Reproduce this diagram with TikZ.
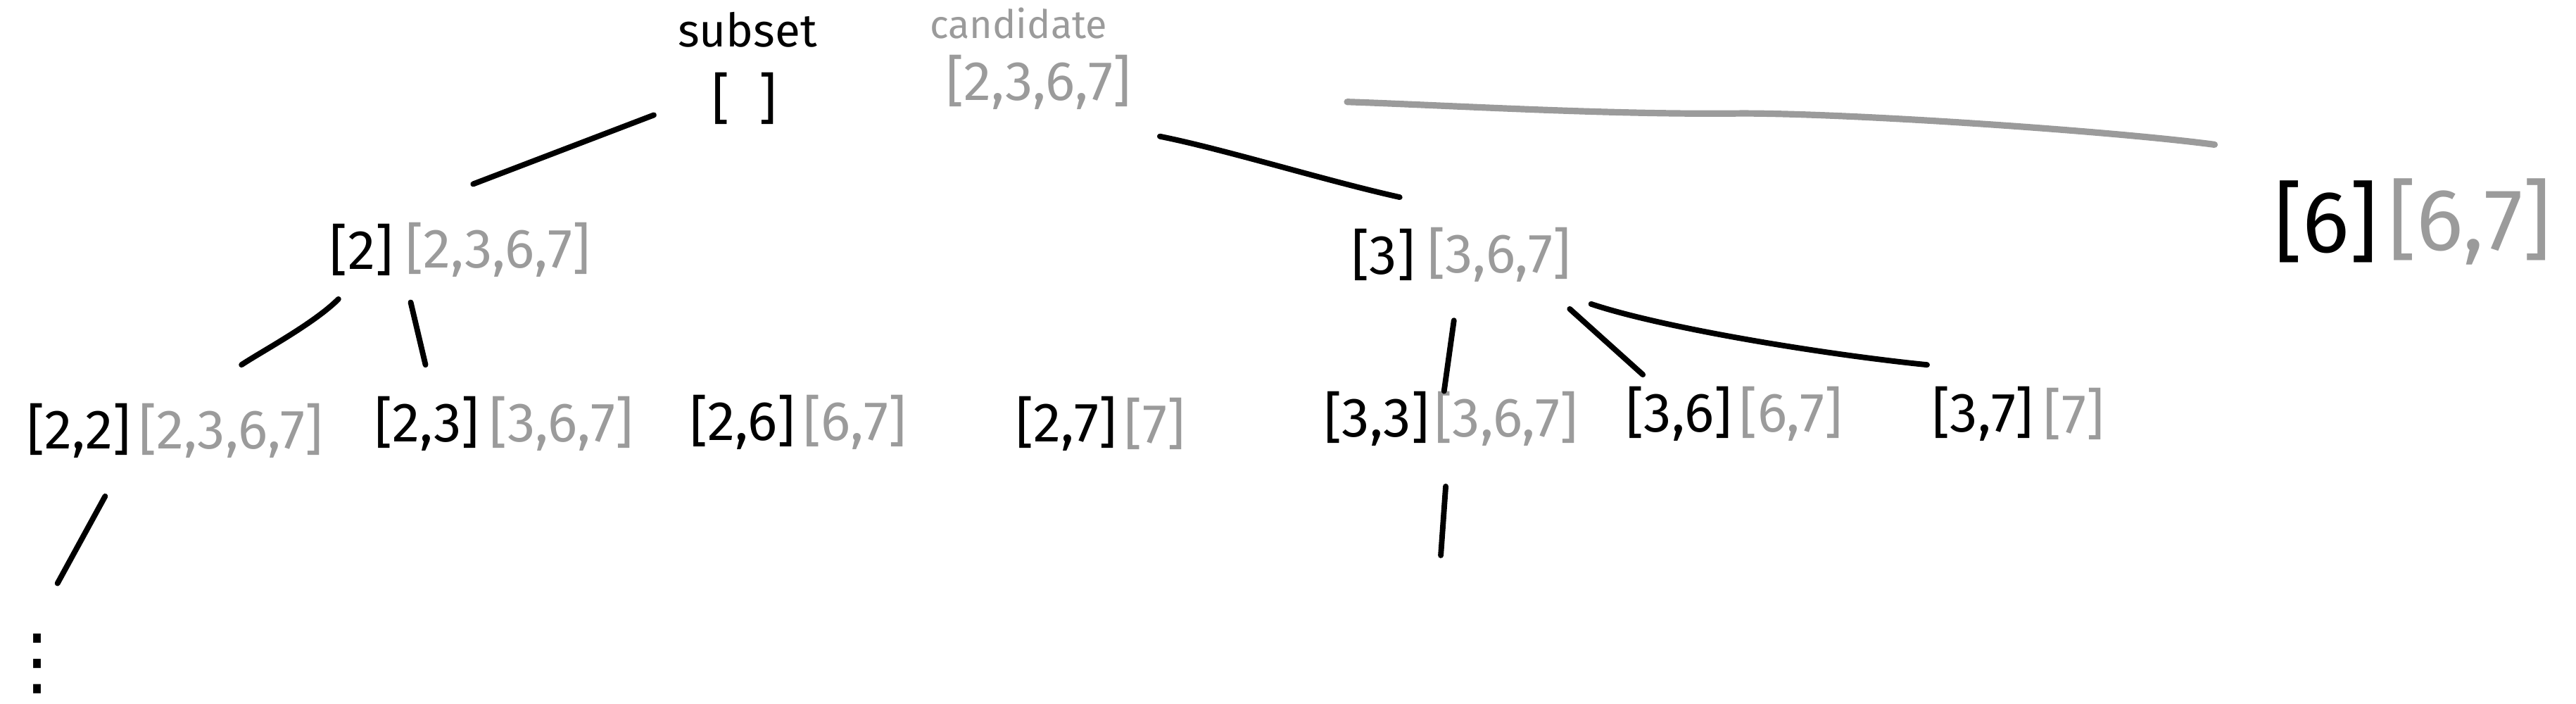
\documentclass[tikz,border=0pt]{standalone}
\usepackage{fontspec}
\setmainfont{Fira Sans}
\newfontfamily\dotsfont{DejaVu Sans}
\usepackage{tikz}
\usetikzlibrary{positioning, calc}
\definecolor{SubInk}{HTML}{000000}
\definecolor{CandInk}{HTML}{9B9B9B}

\begin{document}
\begin{tikzpicture}[
    x=0.025cm, y=-0.025cm,
    sub/.style={
      text=SubInk,
      inner sep=0pt,
      font=\fontsize{24}{27}\selectfont,
    },
    cand/.style={
      text=CandInk,
      inner sep=0pt,
      font=\fontsize{24}{27}\selectfont,
    },
    big/.style={
      font=\fontsize{38}{42}\selectfont,
    },
    edge/.style={
      draw=SubInk,
      line width=2.4pt,
      line cap=round,
    },
    guide/.style={
      draw=CandInk,
      line width=2.8pt,
      line cap=round,
    },
  ]
  \useasboundingbox (0,0) rectangle (1568,428);

  % headings
  \node[sub, font=\fontsize{20}{24}\selectfont] (hsub) at (455,18) {subset};
  \node[cand, font=\fontsize{17}{20}\selectfont] (hcand) at (620,14) {candidate};

  % level 0
  \node[sub] (root) at (453,60) {[\ \ ]};
  \node[cand] (c0) at (632,50) {[2,3,6,7]};

  % level 1
  \node[sub] (n2) at (220,152) {[2]};
  \node[cand, right=5pt of n2] (c2) {[2,3,6,7]};
  \node[sub] (n3) at (842,155) {[3]};
  \node[cand, right=5pt of n3] (c3) {[3,6,7]};
  \node[sub, big] (n6) at (1416,135) {[6]};
  \node[cand, big, right=4pt of n6] (c6) {[6,7]};

  % level 2
  \node[sub] (n22) at (48,262) {[2,2]};
  \node[cand, right=3pt of n22] (c22) {[2,3,6,7]};
  \node[sub] (n23) at (260,258) {[2,3]};
  \node[cand, right=4pt of n23] (c23) {[3,6,7]};
  \node[sub] (n26) at (452,257) {[2,6]};
  \node[cand, right=3pt of n26] (c26) {[6,7]};
  \node[sub] (n27) at (649,258) {[2,7]};
  \node[cand, right=3pt of n27] (c27) {[7]};
  \node[sub] (n33) at (838,255) {[3,3]};
  \node[cand, right=2pt of n33] (c33) {[3,6,7]};
  \node[sub] (n36) at (1022,252) {[3,6]};
  \node[cand, right=3pt of n36] (c36) {[6,7]};
  \node[sub] (n37) at (1207,252) {[3,7]};
  \node[cand, right=4pt of n37] (c37) {[7]};

  \node[sub, anchor=west, font=\dotsfont\fontsize{32}{36}\selectfont] (more) at (0,404) {⋮};

  % branches
  \draw[edge] ([shift={(-55,10)}]root.center) -- ([shift={(68,-40)}]n2.center);
  \draw[edge] ([shift={(74,33)}]c0.center) .. controls +(40,8) and +(-45,-10) .. ([shift={(10,-35)}]n3.center);
  \draw[guide] ([shift={(188,12)}]c0.center) .. controls +(60,2) and +(-80,1) .. ++(240,7)
    .. controls +(70,0) and +(-60,-8) .. ([shift={(-68,-47)}]n6.center);

  \draw[edge] ([shift={(-14,30)}]n2.center) .. controls +(-15,15) and +(12,-8) .. ([shift={(99,-40)}]n22.center);
  \draw[edge] ([shift={(30,32)}]n2.center) -- ([shift={(-1,-36)}]n23.center);
  \draw[edge] ([shift={(43,40)}]n3.center) -- ([shift={(41,-17)}]n33.center);
  \draw[edge] ([shift={(43,33)}]c3.center) -- ([shift={(-22,-24)}]n36.center);
  \draw[edge] ([shift={(56,30)}]c3.center) .. controls +(45,15) and +(-60,-6) .. ([shift={(-34,-30)}]n37.center);

  \draw[edge] ([shift={(16,40)}]n22.center) -- ([shift={(35,-49)}]more.west);
  \draw[edge] ([shift={(42,41)}]n33.center) -- ++(-3,42);
\end{tikzpicture}
\end{document}
